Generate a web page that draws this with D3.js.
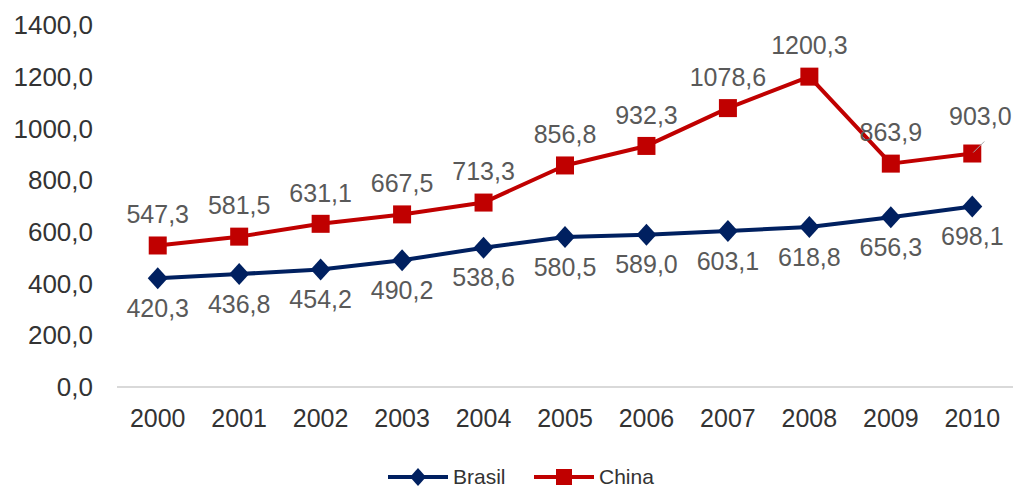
<!DOCTYPE html>
<html>
<head>
<meta charset="utf-8">
<script src="https://cdn.jsdelivr.net/npm/d3@7"></script>
<style>
	body { margin: 0; background: #fff; }
	svg text { font-family: 'Liberation Sans', Arial, sans-serif; }
</style>
</head>
<body>
<svg id="chart" width="1024" height="488"></svg>
<script>
const YEARS = ['2000', '2001', '2002', '2003', '2004', '2005', '2006', '2007', '2008', '2009', '2010'];
const BRASIL = [420.3, 436.8, 454.2, 490.2, 538.6, 580.5, 589.0, 603.1, 618.8, 656.3, 698.1];
const CHINA = [547.3, 581.5, 631.1, 667.5, 713.3, 856.8, 932.3, 1078.6, 1200.3, 863.9, 903.0];
const Y_TICKS = [0, 200, 400, 600, 800, 1000, 1200, 1400];

const series = [
	{ name: 'Brasil', values: BRASIL, color: '#002060', marker: 'diamond', labelDy: 30 },
	{ name: 'China', values: CHINA, color: '#C00000', marker: 'square', labelDy: -31 }
];

const fmt = v => v.toFixed(1).replace('.', ',');

const $svg = d3.select('#chart');

const x = d3.scaleBand().domain(YEARS).range([117, 1013]);
const y = d3.scaleLinear().domain([0, 1400]).range([387, 25]);
const cx = d => x(d) + x.bandwidth() / 2;

// baseline
$svg.append('line')
	.attr('x1', 117).attr('x2', 1013)
	.attr('y1', y(0)).attr('y2', y(0))
	.attr('stroke', '#d9d9d9').attr('stroke-width', 2);

// y labels
$svg.append('g').selectAll('text')
	.data(Y_TICKS)
	.join('text')
	.attr('x', 93)
	.attr('y', d => y(d))
	.attr('dy', '0.35em')
	.attr('text-anchor', 'end')
	.attr('font-size', 26)
	.attr('fill', '#333')
	.text(fmt);

// x labels
$svg.append('g').selectAll('text')
	.data(YEARS)
	.join('text')
	.attr('x', cx)
	.attr('y', 418)
	.attr('dy', '0.35em')
	.attr('text-anchor', 'middle')
	.attr('font-size', 25)
	.attr('fill', '#333')
	.text(d => d);

const line = d3.line().x((d, i) => cx(YEARS[i])).y(d => y(d));

function drawMarker(g, type, color) {
	if (type === 'square') {
		g.append('rect')
			.attr('x', -9).attr('y', -9).attr('width', 18).attr('height', 18)
			.attr('fill', color);
	} else {
		g.append('path')
			.attr('d', 'M0,-11L10,0L0,11L-10,0Z')
			.attr('fill', color);
	}
}

series.forEach(s => {
	const $g = $svg.append('g');
	$g.append('path')
		.datum(s.values)
		.attr('d', line)
		.attr('fill', 'none')
		.attr('stroke', s.color)
		.attr('stroke-width', 4)
		.attr('stroke-linejoin', 'round');

	s.values.forEach((v, i) => {
		const $m = $g.append('g').attr('transform', `translate(${cx(YEARS[i])},${y(v)})`);
		drawMarker($m, s.marker, s.color);
	});
});

// data labels
series.forEach(s => {
	s.values.forEach((v, i) => {
		let lx = cx(YEARS[i]);
		let ly = y(v) + s.labelDy;
		// last china label sits up-right with a leader line
		if (s.name === 'China' && i === s.values.length - 1) {
			lx += 8;
			ly -= 6;
			$svg.append('line')
				.attr('x1', cx(YEARS[i]) + 1).attr('y1', y(v) - 1)
				.attr('x2', cx(YEARS[i]) + 12).attr('y2', y(v) - 12)
				.attr('stroke', '#a6a6a6').attr('stroke-width', 1);
		}
		$svg.append('text')
			.attr('x', lx)
			.attr('y', ly)
			.attr('dy', '0.35em')
			.attr('text-anchor', 'middle')
			.attr('font-size', 25)
			.attr('fill', '#595959')
			.text(fmt(v));
	});
});

// legend
const legend = [
	{ s: series[0], x: 388 },
	{ s: series[1], x: 534 }
];
legend.forEach(({ s, x: lx }) => {
	const $l = $svg.append('g').attr('transform', `translate(${lx},477)`);
	$l.append('line').attr('x1', 0).attr('x2', 60).attr('stroke', s.color).attr('stroke-width', 4);
	const $m = $l.append('g').attr('transform', 'translate(30,0)');
	if (s.marker === 'square') {
		$m.append('rect').attr('x', -8).attr('y', -8).attr('width', 16).attr('height', 16).attr('fill', s.color);
	} else {
		$m.append('path').attr('d', 'M0,-9L8,0L0,9L-8,0Z').attr('fill', s.color);
	}
	$l.append('text')
		.attr('x', 65)
		.attr('dy', '0.35em')
		.attr('font-size', 21)
		.attr('fill', '#333')
		.text(s.name);
});
</script>
</body>
</html>
